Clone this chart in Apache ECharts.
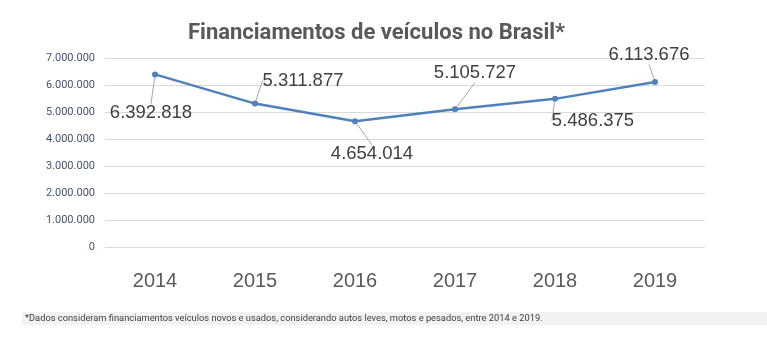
<!DOCTYPE html>
<html><head><meta charset="utf-8">
<script src="https://cdn.jsdelivr.net/npm/echarts@6/dist/echarts.min.js"></script>
<style>html,body{margin:0;padding:0;background:#fff}#c{width:767px;height:338px}</style>
</head><body><div id="c"></div>
<script>
const categories = ['2014','2015','2016','2017','2018','2019'];
const values = [6392818, 5311877, 4654014, 5105727, 5486375, 6113676];
const yTicks = [0, 1000000, 7000000];
const titleText = 'Financiamentos de veículos no Brasil*';
const footnote = '*Dados consideram financiamentos veículos novos e usados, considerando autos leves, motos e pesados, entre 2014 e 2019.';

// label offsets (styling)
const labelShift = [[-4,39],[48,-23],[17,33],[20,-36],[38,22],[-6,-27]];

function fmt(v){ return String(v).replace(/\B(?=(\d{3})+(?!\d))/g,'.'); }

const chart = echarts.init(document.getElementById('c'), null, {renderer:'canvas'});
chart.setOption({
  animation:false,
  title:{text:titleText,left:183,top:17,textStyle:{fontFamily:'Roboto',fontWeight:'bold',fontSize:22,color:'#595959'}},
  grid:{left:105,right:62,top:58,bottom:91},
  xAxis:{type:'category',data:categories,boundaryGap:true,
    axisLine:{show:false},axisTick:{show:false},
    axisLabel:{fontFamily:'Liberation Sans',fontSize:20,color:'#595959',margin:24}},
  yAxis:{type:'value',min:yTicks[0],max:yTicks[2],interval:yTicks[1],
    axisLine:{show:false},axisTick:{show:false},
    splitLine:{lineStyle:{color:'#d9d9d9',width:1}},
    axisLabel:{fontFamily:'Roboto',fontSize:11,color:'#44546A',margin:10,formatter:fmt}},
  series:[{type:'line',data:values,symbol:'circle',symbolSize:6,
    lineStyle:{color:'#4F81BD',width:2.5},itemStyle:{color:'#4F81BD'},
    label:{show:true,position:'inside',formatter:p=>fmt(p.value),fontFamily:'Liberation Sans',fontSize:18.5,color:'#404040'},
    labelLine:{show:true,lineStyle:{color:'#a6a6a6',width:1}},
    labelLayout:function(p){const s=labelShift[p.dataIndex];return {dx:s[0],dy:s[1]};}
  }],
  graphic:[
    {type:'rect',left:22,top:312,shape:{width:745,height:13},style:{fill:'#f2f2f2'}},
    {type:'text',left:25,top:314,style:{text:footnote,fontFamily:'Roboto',fontSize:9.3,fill:'#404040'}}
  ]
});
</script></body></html>
